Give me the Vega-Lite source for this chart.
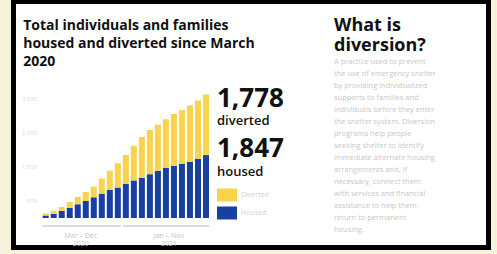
{
  "$schema": "https://vega.github.io/schema/vega-lite/v6.json",
  "width": 475,
  "height": 246,
  "autosize": "none",
  "padding": {"left": 13.5, "top": 1.5, "right": 8.5, "bottom": 6.5},
  "background": "#f6f3da",
  "view": {"fill": "white", "stroke": "black", "strokeWidth": 5},
  "config": {"axis": {"labelOverlap": false, "labelSeparation": 0, "labelFlush": false, "labelBound": false}, "axisLeft": {"labelOverlap": false}, "axisQuantitative": {"labelOverlap": false}},
  "title": {
    "text": ["What is", "diversion?"],
    "subtitle": ["A practice used to prevent", "the use of emergency shelter", "by providing individualized", "supports to families and", "individuals before they enter", "the shelter system. Diversion", "programs help people", "seeking shelter to identify", "immediate alternate housing", "arrangements and, if", "necessary, connect them", "with services and financial", "assistance to help them", "return to permanent", "housing."],
    "anchor": "start",
    "frame": "group",
    "orient": "top",
    "offset": 0,
    "dx": 320.5,
    "dy": 232,
    "font": "Open Sans",
    "fontSize": 18,
    "fontWeight": "bold",
    "color": "#111111",
    "lineHeight": 20,
    "subtitleFont": "Open Sans",
    "subtitleFontSize": 7.5,
    "subtitleColor": "#c8c8c8",
    "subtitleLineHeight": 12,
    "subtitlePadding": 3
  },
  "datasets": {
    "bars": [
      {"month": "2020-03", "series": "Housed", "value": 73}, {"month": "2020-03", "series": "Diverted", "value": 59},
      {"month": "2020-04", "series": "Housed", "value": 117}, {"month": "2020-04", "series": "Diverted", "value": 103},
      {"month": "2020-05", "series": "Housed", "value": 211}, {"month": "2020-05", "series": "Diverted", "value": 112},
      {"month": "2020-06", "series": "Housed", "value": 302}, {"month": "2020-06", "series": "Diverted", "value": 168},
      {"month": "2020-07", "series": "Housed", "value": 402}, {"month": "2020-07", "series": "Diverted", "value": 214},
      {"month": "2020-08", "series": "Housed", "value": 499}, {"month": "2020-08", "series": "Diverted", "value": 264},
      {"month": "2020-09", "series": "Housed", "value": 608}, {"month": "2020-09", "series": "Diverted", "value": 317},
      {"month": "2020-10", "series": "Housed", "value": 713}, {"month": "2020-10", "series": "Diverted", "value": 446},
      {"month": "2020-11", "series": "Housed", "value": 822}, {"month": "2020-11", "series": "Diverted", "value": 566},
      {"month": "2020-12", "series": "Housed", "value": 895}, {"month": "2020-12", "series": "Diverted", "value": 710},
      {"month": "2021-01", "series": "Housed", "value": 998}, {"month": "2021-01", "series": "Diverted", "value": 851},
      {"month": "2021-02", "series": "Housed", "value": 1101}, {"month": "2021-02", "series": "Diverted", "value": 1018},
      {"month": "2021-03", "series": "Housed", "value": 1183}, {"month": "2021-03", "series": "Diverted", "value": 1194},
      {"month": "2021-04", "series": "Housed", "value": 1285}, {"month": "2021-04", "series": "Diverted", "value": 1298},
      {"month": "2021-05", "series": "Housed", "value": 1385}, {"month": "2021-05", "series": "Diverted", "value": 1353},
      {"month": "2021-06", "series": "Housed", "value": 1468}, {"month": "2021-06", "series": "Diverted", "value": 1429},
      {"month": "2021-07", "series": "Housed", "value": 1526}, {"month": "2021-07", "series": "Diverted", "value": 1526},
      {"month": "2021-08", "series": "Housed", "value": 1591}, {"month": "2021-08", "series": "Diverted", "value": 1579},
      {"month": "2021-09", "series": "Housed", "value": 1652}, {"month": "2021-09", "series": "Diverted", "value": 1650},
      {"month": "2021-10", "series": "Housed", "value": 1740}, {"month": "2021-10", "series": "Diverted", "value": 1709},
      {"month": "2021-11", "series": "Housed", "value": 1847}, {"month": "2021-11", "series": "Diverted", "value": 1778}
    ],
    "groups": [
      {"start": "2020-03", "end": "2020-12", "mid": "2020-07", "label": "Mar – Dec\n2020"},
      {"start": "2021-01", "end": "2021-11", "mid": "2021-06", "label": "Jan – Nov\n2021"}
    ],
    "totals": [
      {"month": "2021-11", "series": "diverted", "count": 1778, "top": 3625},
      {"month": "2021-11", "series": "housed", "count": 1847, "top": 1847}
    ]
  },
  "layer": [
    {
      "data": {"name": "bars"},
      "mark": {"type": "bar"},
      "encoding": {
        "x": {"field": "month", "type": "nominal", "axis": null,
              "scale": {"range": [29.2, 195.5], "paddingInner": 0.25, "paddingOuter": 0}},
        "y": {"field": "value", "type": "quantitative", "stack": "zero",
              "scale": {"domain": [0, 4000], "range": [216.5, 80.2], "nice": false, "zero": true},
              "axis": {"orient": "left", "offset": -25, "domain": false, "ticks": false, "grid": false,
                       "values": [500, 1000, 1500, 2000, 2500, 3000, 3500, 4000],
                       "labelExpr": "format(datum.value, ',')", "labelOverlap": false,
                       "labelColor": "#dadada", "labelFontSize": 6, "labelFont": "Open Sans", "labelPadding": 2,
                       "title": ["Total individuals and families", "housed and diverted since March", "2020"],
                       "titleAngle": 0, "titleAlign": "left", "titleBaseline": "alphabetic",
                       "titleX": -15.8, "titleY": 27.8, "titleFont": "Open Sans", "titleFontSize": 14,
                       "titleFontWeight": "bold", "titleColor": "#111111", "titleLineHeight": 18}},
        "color": {"field": "series", "type": "nominal",
                  "scale": {"domain": ["Diverted", "Housed"], "range": ["#f8d34c", "#1a3fa3"]},
                  "legend": {"orient": "none", "legendX": 203.5, "legendY": 183.5, "title": null,
                             "symbolType": "M-1,-0.65H1V0.65H-1Z", "symbolSize": 400, "symbolStrokeWidth": 0,
                             "symbolOpacity": 1, "labelColor": "#d2d2d2", "labelFontSize": 7, "labelFont": "Open Sans",
                             "labelOffset": 4, "rowPadding": 1}},
        "order": {"field": "series", "sort": "descending"}
      }
    },
    {
      "data": {"name": "groups"},
      "mark": {"type": "rule", "color": "#cfcfcf", "strokeWidth": 1.5},
      "encoding": {
        "x": {"field": "start", "type": "nominal", "bandPosition": 0, "axis": null},
        "x2": {"field": "end", "bandPosition": 1},
        "y": {"datum": -235}
      }
    },
    {
      "data": {"name": "groups"},
      "mark": {"type": "text", "lineBreak": "\n", "baseline": "top", "align": "center", "fontSize": 7, "lineHeight": 8, "color": "#c4c4c4", "font": "Open Sans"},
      "encoding": {
        "x": {"field": "mid", "type": "nominal", "bandPosition": 1, "axis": null},
        "y": {"datum": -425},
        "text": {"field": "label"}
      }
    },
    {
      "data": {"name": "totals"},
      "transform": [{"filter": "datum.series === 'diverted'"}],
      "layer": [
        {"mark": {"type": "text", "align": "left", "baseline": "alphabetic", "dx": 11, "dy": 12.2, "font": "Open Sans", "fontSize": 26, "fontWeight": "bold", "color": "#111111"},
         "encoding": {"x": {"field": "month", "type": "nominal", "axis": null}, "y": {"field": "top", "type": "quantitative"}, "text": {"field": "count", "type": "quantitative", "format": ","}}},
        {"mark": {"type": "text", "align": "left", "baseline": "alphabetic", "dx": 11, "dy": 30.5, "font": "Open Sans", "fontSize": 13, "fontWeight": 600, "color": "#111111"},
         "encoding": {"x": {"field": "month", "type": "nominal", "axis": null}, "y": {"field": "top", "type": "quantitative"}, "text": {"field": "series"}}}
      ]
    },
    {
      "data": {"name": "totals"},
      "transform": [{"filter": "datum.series === 'housed'"}],
      "layer": [
        {"mark": {"type": "text", "align": "left", "baseline": "alphabetic", "dx": 11, "dy": 2.4, "font": "Open Sans", "fontSize": 26, "fontWeight": "bold", "color": "#111111"},
         "encoding": {"x": {"field": "month", "type": "nominal", "axis": null}, "y": {"field": "top", "type": "quantitative"}, "text": {"field": "count", "type": "quantitative", "format": ","}}},
        {"mark": {"type": "text", "align": "left", "baseline": "alphabetic", "dx": 11, "dy": 21, "font": "Open Sans", "fontSize": 13, "fontWeight": 600, "color": "#111111"},
         "encoding": {"x": {"field": "month", "type": "nominal", "axis": null}, "y": {"field": "top", "type": "quantitative"}, "text": {"field": "series"}}}
      ]
    }
  ]
}
